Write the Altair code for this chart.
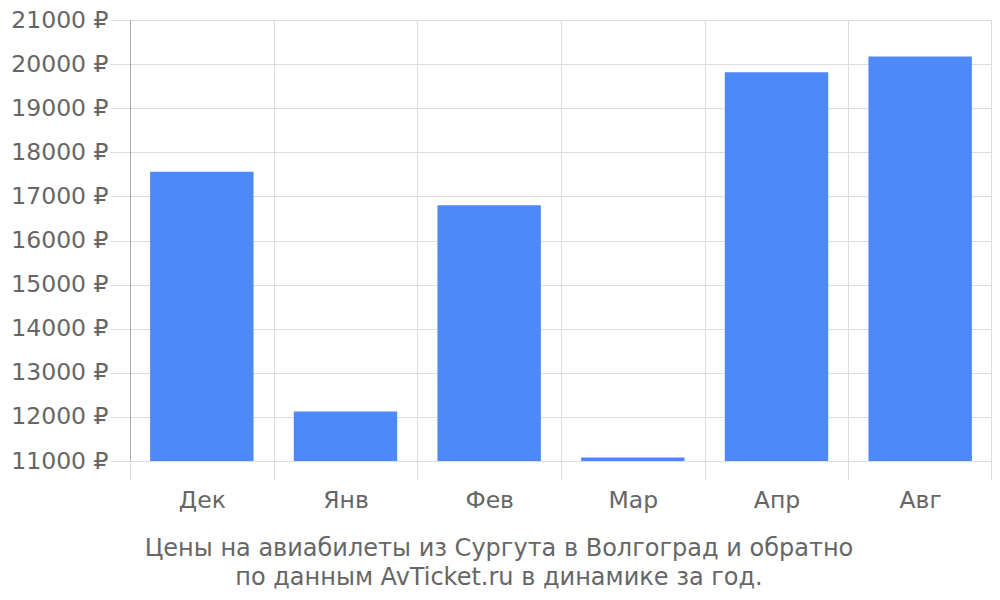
import altair as alt
import pandas as pd

months = ["Дек", "Янв", "Фев", "Мар", "Апр", "Авг"]
prices = [17560, 12120, 16800, 11080, 19815, 20175]
y_ticks = list(range(11000, 21001, 1000))
title_lines = [
    "Цены на авиабилеты из Сургута в Волгоград и обратно",
    "по данным AvTicket.ru в динамике за год.",
]

df = pd.DataFrame({"month": months, "price": prices})
FONT = "DejaVu Sans"
GRID = "#dddddd"
TEXT = "#666666"

x_enc = alt.X(
    "month:N",
    sort=months,
    scale=alt.Scale(paddingInner=0, paddingOuter=0),
    axis=alt.Axis(
        title=None,
        bandPosition=0,
        grid=True,
        gridColor=GRID,
        domain=False,
        ticks=True,
        tickBand="extent",
        tickColor=GRID,
        tickSize=19,
        labelFont=FONT,
        labelFontSize=23.5,
        labelColor=TEXT,
        labelPadding=8,
        labelAngle=0,
    ),
)

bars = alt.Chart(df).mark_bar(
    color="#4e89f9", width=alt.RelativeBandSize(0.72)
).encode(
    x=x_enc,
    y=alt.Y(
        "price:Q",
        scale=alt.Scale(domain=[11000, 21000], zero=False, nice=False),
        axis=alt.Axis(
            title=None,
            values=y_ticks,
            format="d",
            labelExpr="datum.value + ' ₽'",
            grid=True,
            gridColor=GRID,
            domain=True,
            domainColor="#aaaaaa",
            tickColor=GRID,
            tickSize=20,
            labelPadding=2,
            labelFont=FONT,
            labelFontSize=23.5,
            labelColor=TEXT,
        ),
    ),
    y2=alt.datum(11000),
)

edge = alt.Chart(df).mark_rule(color=GRID).encode(
    x=alt.value(862), y=alt.value(0), y2=alt.value(460)
)

chart = (
    alt.layer(bars, edge)
    .properties(
        width=862,
        height=441,
        autosize=alt.AutoSizeParams(type="none"),
        padding={"left": 122, "top": 12, "right": 0, "bottom": 131},
        title=alt.TitleParams(
            text=title_lines,
            orient="bottom",
            anchor="middle",
            dx=-62,
            offset=25,
            font=FONT,
            fontSize=24,
            fontWeight="normal",
            color=TEXT,
            lineHeight=29,
        ),
    )
    .configure_view(stroke=None)
)

chart.save("out.html", embed_options={"renderer": "svg", "actions": False})
